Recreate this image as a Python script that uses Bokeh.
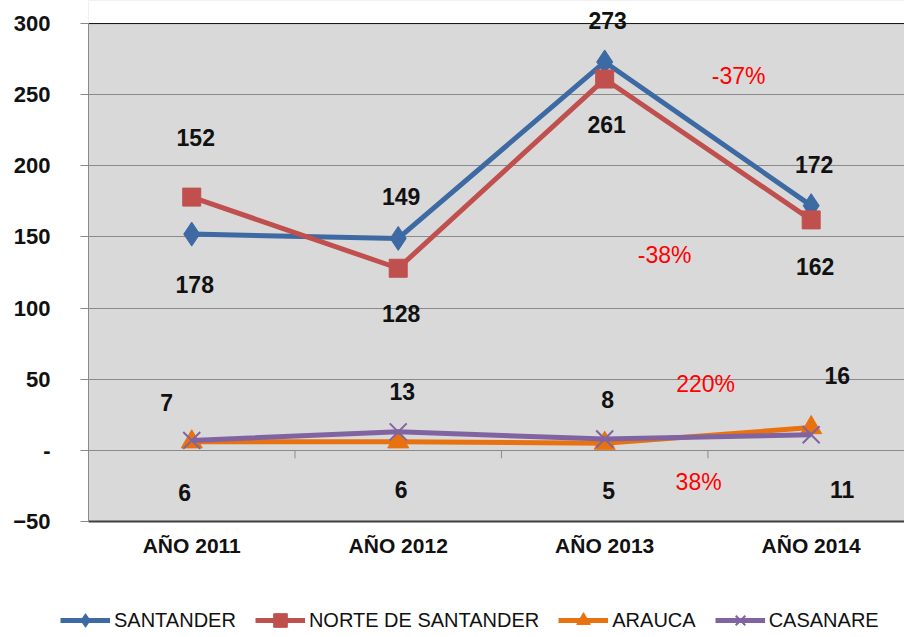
from bokeh.plotting import figure
from bokeh.layouts import column
from bokeh.models import (ColumnDataSource, Label, Legend, LegendItem,
                          Range1d, FixedTicker, Span, BoxAnnotation)
from bokeh.embed import file_html
from bokeh.resources import INLINE

# ---------------- data ----------------
categories = ["AÑO 2011", "AÑO 2012", "AÑO 2013", "AÑO 2014"]
santander = [152, 149, 273, 172]
norte_de_santander = [178, 128, 261, 162]
arauca = [6, 6, 5, 16]
casanare = [7, 13, 8, 11]
series_names = ["SANTANDER", "NORTE DE SANTANDER", "ARAUCA", "CASANARE"]
y_ticks = [-50, 0, 50, 100, 150, 200, 250, 300]

# ---------------- styles ----------------
FONT = "'Liberation Sans', Arial, sans-serif"
colors = ["#3d6aa3", "#c0504d", "#e8720f", "#8064a2"]
markers = ["diamond", "square", "triangle", "x"]
marker_sizes = [24, 18, 21, 24]
# label offsets in pixels (x right, y up)
label_offsets = [
    [(4, 97), (3, 42), (3, 41), (3, 41)],
    [(3, -87), (3, -45), (2, -45), (4, -47)],
    [(-7, -51), (3, -48), (4, -47), (26, 52)],
    [(-25, 38), (4, 40), (3, 39), (31, -55)],
]
pct_positions = [(3.649, 262.8), (3.29, 137), (3.489, 46.4), (3.455, -22.5)]
top_headroom = 16.2  # white space above the 300 line, in axis units

xs = list(range(1, len(categories) + 1))
all_series = [santander, norte_de_santander, arauca, casanare]

p = figure(width=904, height=600, output_backend="svg", toolbar_location=None,
           x_range=Range1d(0.5, 4.452),
           y_range=Range1d(y_ticks[0], y_ticks[-1] + top_headroom),
           min_border_left=88, min_border_right=0, min_border_top=0,
           min_border_bottom=79)
p.frame_align = False
p.background_fill_color = "#d9d9d9"
p.border_fill_color = "white"
p.outline_line_color = None

# grid
p.xgrid.grid_line_color = None
p.ygrid.ticker = FixedTicker(ticks=y_ticks)
p.ygrid.grid_line_color = "#8a8a8a"
p.ygrid.grid_line_width = 1

# white strip above the plot area
p.add_layout(BoxAnnotation(bottom=y_ticks[-1], fill_color="white", fill_alpha=1,
                           line_color=None, level="underlay"))

# y axis
p.yaxis.ticker = FixedTicker(ticks=y_ticks)
p.yaxis.bounds = (y_ticks[0], y_ticks[-1])
p.yaxis.major_label_overrides = {0: "-"}
p.yaxis.major_label_text_font = FONT
p.yaxis.major_label_text_font_style = "bold"
p.yaxis.major_label_text_font_size = "22px"
p.yaxis.major_label_text_color = "#111111"
p.yaxis.major_tick_out = 8
p.yaxis.major_tick_in = 0
p.yaxis.major_tick_line_color = "#8a8a8a"
p.yaxis.minor_tick_line_color = None
p.yaxis.axis_line_color = "#8a8a8a"
p.yaxis.major_label_standoff = 30

# x axis
p.xaxis.ticker = FixedTicker(ticks=xs)
p.xaxis.major_label_overrides = {x: c for x, c in zip(xs, categories)}
p.xaxis.major_label_text_font = FONT
p.xaxis.major_label_text_font_style = "bold"
p.xaxis.major_label_text_font_size = "21px"
p.xaxis.major_label_text_color = "#111111"
p.xaxis.major_tick_line_color = None
p.xaxis.minor_tick_line_color = None
p.xaxis.axis_line_color = "#3f3f3f"
p.xaxis.axis_line_width = 2
p.xaxis.major_label_standoff = 6

# top border line
p.add_layout(Span(location=y_ticks[-1], dimension="width", line_color="#111111",
                  line_width=1, level="underlay"))

# small tick marks on the zero line between categories
mid = [x + 0.5 for x in xs[:-1]]
p.segment(x0=mid, y0=[0] * len(mid), x1=mid, y1=[-5.6] * len(mid),
          line_color="#8a8a8a", line_width=1)

# legend strip below the chart (its ranges keep the data out of view)
lg = figure(width=904, height=37, output_backend="svg", toolbar_location=None,
            x_range=Range1d(1000, 1904), y_range=Range1d(1000, 1037),
            x_axis_type=None, y_axis_type=None, min_border=0)
lg.frame_align = False
lg.outline_line_color = None
lg.background_fill_color = "white"
lg.border_fill_color = "white"
lg.xgrid.visible = False
lg.ygrid.visible = False

legend_items = []
for name, vals, col, mk, ms in zip(series_names, all_series, colors, markers, marker_sizes):
    src = ColumnDataSource(dict(x=xs, y=vals))
    p.line("x", "y", source=src, line_color=col, line_width=5)
    ln = lg.line("x", "y", source=src, line_color=col, line_width=5)
    if mk == "x":
        p.scatter("x", "y", source=src, marker=mk, size=ms, line_color=col, line_width=2)
        sc = lg.scatter("x", "y", source=src, marker=mk, line_color=col, line_width=2)
    else:
        p.scatter("x", "y", source=src, marker=mk, size=ms, fill_color=col, line_color=col)
        sc = lg.scatter("x", "y", source=src, marker=mk, fill_color=col, line_color=col)
    legend_items.append(LegendItem(label=name, renderers=[ln, sc]))

# data labels
for vals, offs in zip(all_series, label_offsets):
    for x, v, (dx, dy) in zip(xs, vals, offs):
        p.add_layout(Label(x=x, y=v, text=str(v), x_offset=dx, y_offset=dy,
                           text_font=FONT, text_font_style="bold",
                           text_font_size="23px", text_color="#111111",
                           text_align="center", text_baseline="middle"))

# percent change 2013 -> 2014
for vals, (px, py) in zip(all_series, pct_positions):
    pct = round((vals[3] / vals[2] - 1) * 100)
    p.add_layout(Label(x=px, y=py, text=f"{pct}%", text_font=FONT,
                       text_font_size="23px", text_color="#ff0000",
                       text_align="center", text_baseline="middle"))

legend = Legend(items=legend_items, orientation="horizontal", location=(60, 0),
                glyph_width=50, glyph_height=34, label_standoff=4, spacing=19,
                padding=0, margin=0, background_fill_alpha=0, border_line_color=None,
                label_text_font=FONT, label_text_font_size="20px",
                label_text_color="#111111")
lg.add_layout(legend, "center")

layout = column(p, lg, spacing=0)
open("out.html", "w").write(file_html(layout, INLINE))
